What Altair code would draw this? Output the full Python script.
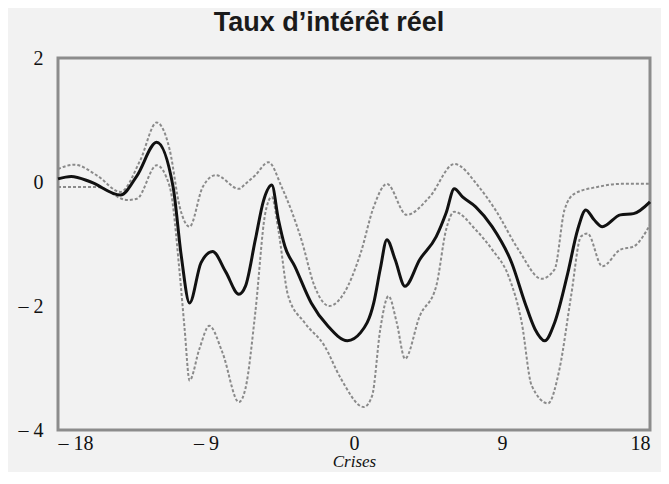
import altair as alt
import pandas as pd

# Mean path (solid)
mid_x = [-18, -17.2, -16, -14.2, -13.2, -12, -11, -10.5, -10, -9.3, -8.6, -7.8, -7, -6.6, -6, -5.5, -5, -4.6, -4.2, -3.6, -2.6, -1.6, -0.4, 0.4, 1.2, 1.6, 2, 2.5, 3.1, 4, 5, 5.6, 6.1, 6.6, 7.4, 8.4, 9.6, 10.4, 11, 11.6, 12.2, 13, 13.6, 14.1, 14.6, 15.1, 16.2, 17, 18]
mid_y = [0.05, 0.09, 0.0, -0.21, 0.1, 0.64, -0.08, -1.2, -1.95, -1.3, -1.12, -1.45, -1.81, -1.68, -0.93, -0.3, -0.05, -0.6, -1.04, -1.36, -1.95, -2.32, -2.56, -2.43, -1.95, -1.4, -0.93, -1.25, -1.68, -1.25, -0.88, -0.5, -0.11, -0.24, -0.4, -0.72, -1.31, -1.95, -2.37, -2.56, -2.27, -1.47, -0.77, -0.45, -0.61, -0.72, -0.53, -0.51, -0.32]

# Upper bound (dashed)
up_x = [-18, -17, -15.6, -14.2, -13, -12, -11.2, -10.6, -10, -9.2, -8.4, -7, -6.6, -6, -5.2, -4.4, -3.2, -2.4, -1.5, -0.6, 0.4, 1.2, 2, 3.2, 4.6, 6.1, 7.6, 8.6, 10, 11.4, 12.2, 12.8, 13.4, 14.8, 16.2, 18]
up_y = [0.21, 0.28, 0.1, -0.16, 0.35, 0.96, 0.51, -0.4, -0.72, -0.08, 0.11, -0.11, -0.03, 0.11, 0.32, -0.08, -0.93, -1.68, -2.0, -1.79, -1.15, -0.4, -0.03, -0.53, -0.24, 0.29, -0.08, -0.45, -1.09, -1.56, -1.41, -0.45, -0.19, -0.08, -0.03, -0.03]

# Lower bound (dashed)
lo_x = [-18, -15.6, -13.8, -13.2, -12, -11.2, -10.6, -10.3, -10, -9.4, -8.8, -8, -7, -6.6, -6, -5.4, -5, -4.6, -4, -3, -1.8, -0.8, 0.6, 1.1, 1.6, 2.1, 2.6, 3.1, 4, 5, 5.6, 6.1, 7.4, 8.4, 9.4, 10.2, 10.8, 11.8, 12.5, 13.2, 13.8, 14.2, 15.1, 16.2, 17, 18]
lo_y = [-0.08, -0.08, -0.29, -0.27, 0.27, -0.08, -1.47, -2.37, -3.2, -2.69, -2.32, -2.75, -3.55, -3.33, -2.1, -0.51, -0.24, -0.77, -1.84, -2.27, -2.64, -3.17, -3.63, -3.45, -2.37, -1.84, -2.27, -2.85, -2.16, -1.68, -0.77, -0.48, -0.77, -1.09, -1.52, -2.27, -3.28, -3.57, -3.01, -1.84, -0.88, -0.83, -1.36, -1.09, -1.04, -0.69]

x_ticks = [-18, -9, 0, 9, 18]
y_ticks = [-4, -2, 0, 2]

mid = pd.DataFrame({"x": mid_x, "y": mid_y})
up = pd.DataFrame({"x": up_x, "y": up_y})
lo = pd.DataFrame({"x": lo_x, "y": lo_y})

lab = "datum.value < 0 ? '\u2013 ' + abs(datum.value) : '' + datum.value"

xenc = alt.X("x:Q", scale=alt.Scale(domain=[-18, 18], nice=False, zero=False),
             axis=alt.Axis(values=x_ticks, title="Crises", labelExpr=lab,
                           labelPadding=3, titlePadding=0))
yenc = alt.Y("y:Q", scale=alt.Scale(domain=[-4, 2], nice=False, zero=False),
             axis=alt.Axis(values=y_ticks, title=None, labelExpr=lab, labelPadding=15))

def dashed(df):
    return alt.Chart(df).mark_line(color="#8a8a8a", strokeWidth=2, strokeDash=[3, 2],
                                   interpolate="monotone").encode(x=xenc, y=yenc)

solid = alt.Chart(mid).mark_line(color="#111111", strokeWidth=3,
                                 interpolate="monotone").encode(x=xenc, y=yenc)

chart = alt.layer(dashed(up), dashed(lo), solid).properties(
    width=592, height=372,
    autosize=alt.AutoSizeParams(type="none"),
    padding={"left": 50, "top": 50, "right": 11, "bottom": 42},
    background="#f2f2f2",
    title=alt.TitleParams("Taux d\u2019intérêt réel", font="Liberation Sans", fontSize=27,
                          fontWeight="bold", color="#1a1a1a", dx=-25, offset=11),
).configure_view(
    stroke="#8c8c8c", strokeWidth=3, fill="#f2f2f2"
).configure_axis(
    domain=False, ticks=False, grid=False,
    labelFont="Liberation Serif", labelFontSize=20, labelColor="#111111",
    titleFont="Liberation Serif", titleFontSize=17, titleFontStyle="italic",
    titleFontWeight="normal", titleColor="#111111",
)

chart.save("out.html", embed_options={"renderer": "svg", "actions": False})
